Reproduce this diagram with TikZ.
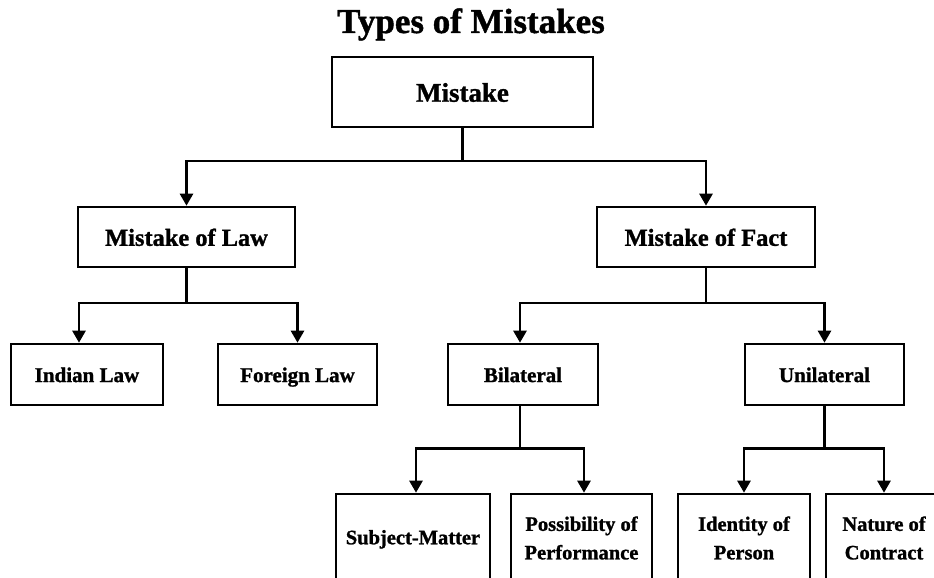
\documentclass[tikz,border=0pt]{standalone}
\usepackage{fontspec}
\setmainfont{Liberation Serif}[BoldFeatures={FakeBold=1.2}]
\usetikzlibrary{arrows.meta}
\begin{document}
\begin{tikzpicture}[x=1pt,y=-1pt,
  box/.style={draw=black, line width=2.6pt, fill=white, inner sep=0pt, align=center},
  lvlA/.style={box, font=\fontsize{26.9}{30}\selectfont\bfseries, text height=24.2pt, text depth=4.8pt},
  lvlB/.style={box, font=\fontsize{24.4}{28}\selectfont\bfseries, text height=22pt, text depth=4.4pt},
  lvlC/.style={box, font=\fontsize{21}{25}\selectfont\bfseries, text height=18.9pt, text depth=3.8pt},
  lvlD/.style={box, font=\fontsize{20.5}{28.5}\selectfont\bfseries, text height=17pt, text depth=4.5pt},
  lvlDtwo/.style={box, font=\fontsize{20.5}{28.5}\selectfont\bfseries},
  conn/.style={line width=2.6pt, -{Triangle[width=13pt,length=12pt]}}]
\useasboundingbox (0,0) rectangle (934,578);
\fill[white] (0,0) rectangle (934,578);
\clip (0,0) rectangle (934,578);

\node[anchor=base, font=\fontsize{35}{40}\selectfont\bfseries] (title) at (471,33) {Types of Mistakes};

\node[lvlA, minimum width=261pt, minimum height=70pt] (m) at (462.5,92) {Mistake};

\node[lvlB, minimum width=217pt, minimum height=60pt] (mlaw) at (186.5,237) {Mistake of Law};
\node[lvlB, minimum width=218pt, minimum height=60pt] (mfact) at (706,237) {Mistake of Fact};

\node[lvlC, minimum width=152pt, minimum height=61pt] (indian) at (87,374.5) {Indian Law};
\node[lvlC, minimum width=159pt, minimum height=61pt] (foreign) at (297.5,374.5) {Foreign Law};
\node[lvlC, minimum width=150pt, minimum height=61pt] (bi) at (523,374.5) {Bilateral};
\node[lvlC, minimum width=159pt, minimum height=61pt] (uni) at (824.5,374.5) {Unilateral};

\node[lvlD, minimum width=154pt, minimum height=88pt] (subj) at (413,538) {Subject-Matter};
\node[lvlDtwo, minimum width=141pt, minimum height=88pt] (poss) at (581.5,538) {Possibility of\\Performance};
\node[lvlDtwo, minimum width=132pt, minimum height=88pt] (ident) at (744,538) {Identity of\\Person};
\node[lvlDtwo, minimum width=116pt, minimum height=88pt] (nat) at (884,538) {Nature of\\Contract};

\coordinate (j1) at (0,161);
\coordinate (j2) at (0,303);
\coordinate (j3) at (0,448.5);

\draw[conn] (m.south) -- (m.south |- j1) -| (mlaw.north);
\draw[conn] (m.south) -- (m.south |- j1) -| (mfact.north);

\draw[conn] (mlaw.south) -- (mlaw.south |- j2) -| ([xshift=-8pt]indian.north);
\draw[conn] (mlaw.south) -- (mlaw.south |- j2) -| (foreign.north);

\draw[conn] (mfact.south) -- (mfact.south |- j2) -| ([xshift=-3pt]bi.north);
\draw[conn] (mfact.south) -- (mfact.south |- j2) -| (uni.north);

\draw[conn] ([xshift=-3pt]bi.south) -- ([xshift=-3pt]bi.south |- j3) -| ([xshift=3pt]subj.north);
\draw[conn] ([xshift=-3pt]bi.south) -- ([xshift=-3pt]bi.south |- j3) -| ([xshift=2.5pt]poss.north);

\draw[conn] (uni.south) -- (uni.south |- j3) -| (ident.north);
\draw[conn] (uni.south) -- (uni.south |- j3) -| (nat.north);
\end{tikzpicture}
\end{document}
